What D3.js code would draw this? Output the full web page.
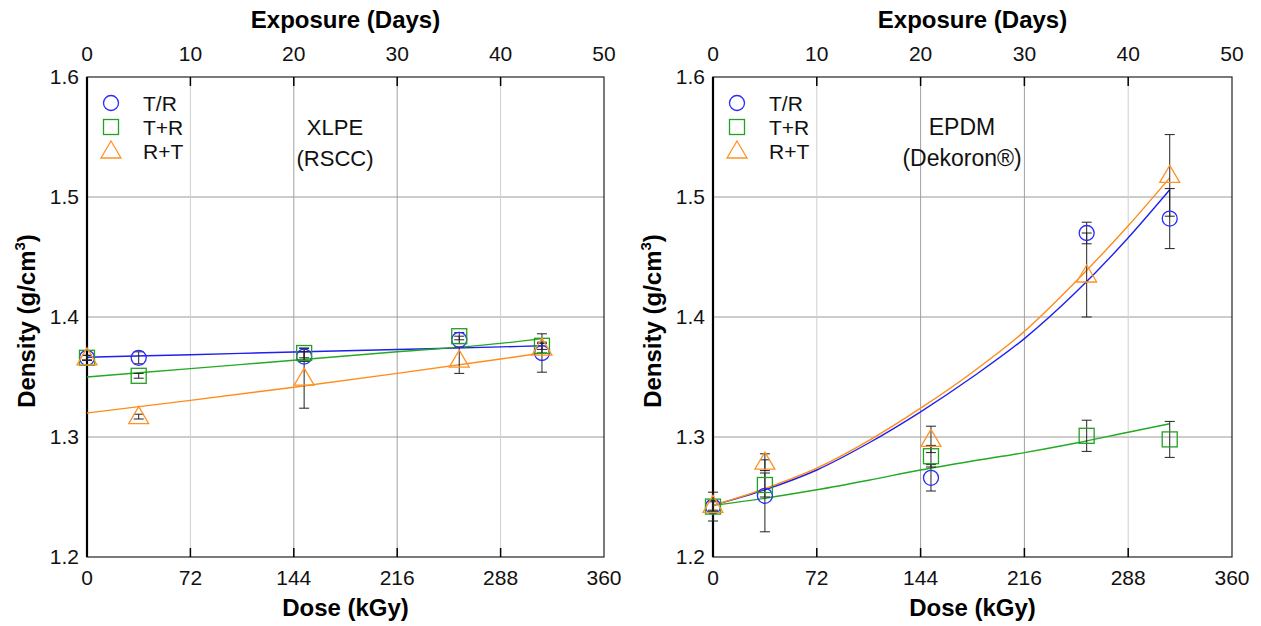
<!DOCTYPE html>
<html>
<head>
<meta charset="utf-8">
<script src="https://cdn.jsdelivr.net/npm/d3@7"></script>
<style>
  body { margin: 0; background: #fff; }
  svg { font-family: "Liberation Sans", Arial, sans-serif; }
</style>
</head>
<body>
<svg id="chart" width="1261" height="626"></svg>
<script>
// dose (kGy) of each exposure, same for both materials
const doses = [0, 36, 151.2, 259.2, 316.8];
const doseTicks = [0, 72, 144, 216, 288, 360];
const dayTicks = [0, 10, 20, 30, 40, 50];
const densityTicks = [1.2, 1.3, 1.4, 1.5, 1.6];
const seriesNames = ["T/R", "T+R", "R+T"];

// XLPE (RSCC)
const xlpeTR = [1.366, 1.366, 1.367, 1.381, 1.370];
const xlpeTRerr = [0.002, 0.005, 0.004, 0.003, 0.016];
const xlpeTpR = [1.366, 1.351, 1.370, 1.384, 1.376];
const xlpeTpRerr = [0.002, 0.002, 0.004, 0.003, 0.003];
const xlpeRpT = [1.366, 1.317, 1.349, 1.364, 1.374];
const xlpeRpTerr = [0.002, 0.002, 0.025, 0.011, 0.004];

const xlpeFitX = [0, 72, 144, 216, 288, 316.8];
const xlpeFitTR = [1.3665, 1.3686, 1.3708, 1.3729, 1.3751, 1.376];
const xlpeFitTpR = [1.350, 1.357, 1.364, 1.371, 1.378, 1.382];
const xlpeFitRpT = [1.320, 1.3305, 1.3415, 1.353, 1.365, 1.370];

// EPDM (Dekoron)
const epdmTR = [1.242, 1.251, 1.266, 1.470, 1.482];
const epdmTRerr = [0.012, 0.030, 0.011, 0.009, 0.025];
const epdmTpR = [1.242, 1.260, 1.284, 1.301, 1.298];
const epdmTpRerr = [0.004, 0.010, 0.009, 0.013, 0.015];
const epdmRpT = [1.243, 1.279, 1.298, 1.435, 1.518];
const epdmRpTerr = [0.004, 0.007, 0.011, 0.035, 0.034];

const epdmFitX = [0, 36, 72, 108, 144, 180, 216, 252, 288, 316.8];
const epdmFitTR = [1.243, 1.256, 1.2725, 1.295, 1.321, 1.350, 1.382, 1.421, 1.466, 1.506];
const epdmFitTpR = [1.243, 1.249, 1.256, 1.264, 1.2725, 1.280, 1.287, 1.295, 1.304, 1.311];
const epdmFitRpT = [1.243, 1.257, 1.274, 1.297, 1.324, 1.354, 1.388, 1.430, 1.476, 1.516];

const colors = ["#2a2aff", "#22a022", "#ff9326"];
const lineColors = ["#1f1fee", "#22aa22", "#ff8c1a"];

const svg = d3.select("#chart");

function marker(g, kind, x, y, color) {
    if (kind === 0) {
        g.append("circle").attr("cx", x).attr("cy", y).attr("r", 7.5)
            .attr("fill", "none").attr("stroke", color).attr("stroke-width", 1.3);
    } else if (kind === 1) {
        g.append("rect").attr("x", x - 7.5).attr("y", y - 7.5)
            .attr("width", 15).attr("height", 15)
            .attr("fill", "none").attr("stroke", color).attr("stroke-width", 1.3);
    } else {
        const p = d3.path();
        p.moveTo(x, y - 10);
        p.lineTo(x + 10, y + 7);
        p.lineTo(x - 10, y + 7);
        p.closePath();
        g.append("path").attr("d", p.toString())
            .attr("fill", "none").attr("stroke", color).attr("stroke-width", 1.3);
    }
}

function drawPanel(left, right, top, bottom, series, errs, fitX, fits, label) {
    const x = d3.scaleLinear().domain([0, 360]).range([left, right]);
    const xDays = d3.scaleLinear().domain([0, 50]).range([left, right]);
    const y = d3.scaleLinear().domain([1.2, 1.6]).range([bottom, top]);
    const g = svg.append("g");

    // grid
    g.selectAll(".hgrid").data(densityTicks.slice(1, -1)).enter().append("line")
        .attr("x1", left).attr("x2", right)
        .attr("y1", d => y(d)).attr("y2", d => y(d))
        .attr("stroke", "#9a9a9a").attr("stroke-width", 1);
    g.selectAll(".vgrid").data(doseTicks.slice(1, -1)).enter().append("line")
        .attr("x1", d => x(d)).attr("x2", d => x(d))
        .attr("y1", top).attr("y2", bottom)
        .attr("stroke", (d, i) => (i === 1 || i === 2) ? "#a0a0a0" : "#cfcfcf")
        .attr("stroke-width", 1);

    // frame
    g.append("rect").attr("x", left).attr("y", top)
        .attr("width", right - left).attr("height", bottom - top)
        .attr("fill", "none").attr("stroke", "#222").attr("stroke-width", 1.2);
    g.append("line").attr("x1", left).attr("x2", left).attr("y1", top).attr("y2", bottom)
        .attr("stroke", "#000").attr("stroke-width", 2.2);

    // inner ticks
    g.selectAll(".ttick").data(dayTicks.slice(1, -1)).enter().append("line")
        .attr("x1", d => xDays(d)).attr("x2", d => xDays(d))
        .attr("y1", top).attr("y2", top + 9)
        .attr("stroke", "#000").attr("stroke-width", 1.5);
    g.selectAll(".btick").data(doseTicks.slice(1, -1)).enter().append("line")
        .attr("x1", d => x(d)).attr("x2", d => x(d))
        .attr("y1", bottom).attr("y2", bottom - 9)
        .attr("stroke", "#000").attr("stroke-width", 1.5);

    // tick labels
    g.selectAll(".tlab").data(dayTicks).enter().append("text")
        .attr("x", d => xDays(d)).attr("y", 61)
        .attr("text-anchor", "middle").attr("font-size", 21).attr("fill", "#111")
        .text(d => d);
    g.selectAll(".blab").data(doseTicks).enter().append("text")
        .attr("x", d => x(d)).attr("y", bottom + 28)
        .attr("text-anchor", "middle").attr("font-size", 21).attr("fill", "#111")
        .text(d => d);
    g.selectAll(".ylab").data(densityTicks).enter().append("text")
        .attr("x", left - 8).attr("y", d => y(d)).attr("dy", "0.35em")
        .attr("text-anchor", "end").attr("font-size", 21).attr("fill", "#111")
        .text(d => d3.format(".1f")(d));

    // titles
    const mid = (left + right) / 2;
    g.append("text").attr("x", mid).attr("y", 28).attr("text-anchor", "middle")
        .attr("font-size", 24).attr("font-weight", "bold").text("Exposure (Days)");
    g.append("text").attr("x", mid).attr("y", 616).attr("text-anchor", "middle")
        .attr("font-size", 24).attr("font-weight", "bold").text("Dose (kGy)");
    const yt = g.append("text")
        .attr("transform", `translate(${left - 52},${(top + bottom) / 2 + 4}) rotate(-90)`)
        .attr("text-anchor", "middle").attr("font-size", 24).attr("font-weight", "bold");
    yt.append("tspan").text("Density (g/cm");
    yt.append("tspan").attr("font-size", 15).attr("dy", -10).text("3");
    yt.append("tspan").attr("dy", 10).text(")");

    // fit curves
    const line = d3.line().x(d => x(d[0])).y(d => y(d[1])).curve(d3.curveMonotoneX);
    fits.forEach((f, i) => {
        g.append("path").attr("d", line(fitX.map((v, j) => [v, f[j]])))
            .attr("fill", "none").attr("stroke", lineColors[i]).attr("stroke-width", 1.4);
    });

    // error bars
    series.forEach((s, i) => {
        s.forEach((v, j) => {
            const e = errs[i][j];
            const px = x(doses[j]);
            g.append("line").attr("x1", px).attr("x2", px)
                .attr("y1", y(v - e)).attr("y2", y(v + e))
                .attr("stroke", "#222").attr("stroke-width", 1);
            [v - e, v + e].forEach(c => {
                g.append("line").attr("x1", px - 5).attr("x2", px + 5)
                    .attr("y1", y(c)).attr("y2", y(c))
                    .attr("stroke", "#222").attr("stroke-width", 1);
            });
        });
    });

    // markers
    series.forEach((s, i) => {
        s.forEach((v, j) => marker(g, i, x(doses[j]), y(v), colors[i]));
    });

    // legend
    seriesNames.forEach((n, i) => {
        const ly = 103 + i * 24;
        marker(g, i, left + 24, ly, colors[i]);
        g.append("text").attr("x", left + 56).attr("y", ly).attr("dy", "0.36em")
            .attr("font-size", 21).attr("fill", "#111").text(n);
    });

    // material label
    g.append("text").attr("x", label.x).attr("y", 135).attr("text-anchor", "middle")
        .attr("font-size", label.size).attr("fill", "#111").text(label.name);
    g.append("text").attr("x", label.x).attr("y", 166).attr("text-anchor", "middle")
        .attr("font-size", label.size).attr("fill", "#111").text(label.sub);
}

drawPanel(87, 604, 77, 557,
    [xlpeTR, xlpeTpR, xlpeRpT], [xlpeTRerr, xlpeTpRerr, xlpeRpTerr],
    xlpeFitX, [xlpeFitTR, xlpeFitTpR, xlpeFitRpT],
    {x: 335, name: "XLPE", sub: "(RSCC)", size: 22});

drawPanel(713, 1232, 77, 557,
    [epdmTR, epdmTpR, epdmRpT], [epdmTRerr, epdmTpRerr, epdmRpTerr],
    epdmFitX, [epdmFitTR, epdmFitTpR, epdmFitRpT],
    {x: 962, name: "EPDM", sub: "(Dekoron®)", size: 23});
</script>
</body>
</html>
